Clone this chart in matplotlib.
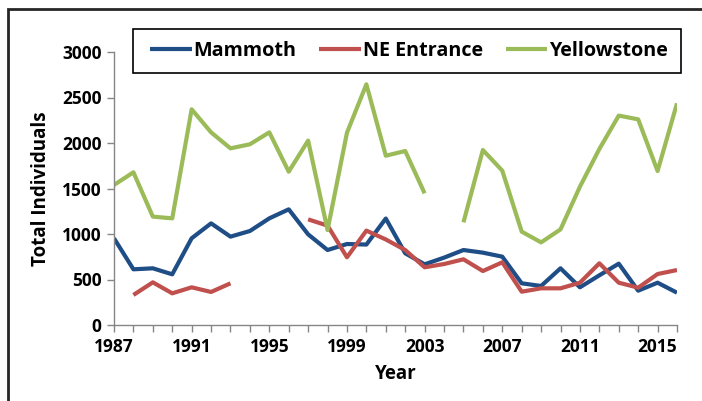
import numpy as np
import matplotlib
matplotlib.use("Agg")
import matplotlib.pyplot as plt
from matplotlib.patches import Rectangle

plt.rcParams["font.family"] = ["Open Sans", "DejaVu Sans"]

years = np.arange(1987, 2017)
nan = np.nan

mammoth = [953, 612, 623, 557, 953, 1117, 971, 1033, 1172, 1271,
           996, 824, 890, 884, 1170, 788, 667, 740, 824, 795,
           751, 458, 429, 623, 414, 546, 674, 377, 465, 355]
ne_entrance = [nan, 330, 469, 348, 414, 363, 458, nan, nan, nan,
               1161, 1092, 744, 1037, 940, 824, 634, 670, 722, 593,
               689, 366, 403, 403, 465, 678, 465, 410, 560, 604]
yellowstone = [1539, 1678, 1191, 1172, 2370, 2117, 1941, 1986, 2117, 1685,
               2026, 1044, 2113, 2645, 1860, 1912, 1447, nan, 1128, 1923,
               1696, 1026, 908, 1051, 1520, 1934, 2301, 2260, 1692, 2436]

series = [("Mammoth", mammoth, "#1F4E87"),
          ("NE Entrance", ne_entrance, "#C0504D"),
          ("Yellowstone", yellowstone, "#9BBB59")]

W, H = 702, 401
fig = plt.figure(figsize=(W / 100, H / 100), dpi=100)
ax = fig.add_axes([114 / W, 1 - 325 / H, (677 - 114) / W, (325 - 52) / H])

for name, vals, color in series:
    ax.plot(years, np.array(vals, dtype=float), color=color, lw=3.0,
            solid_capstyle="butt", label=name)

ax.set_xlim(1987, 2016)
ax.set_ylim(0, 3000)
ax.set_yticks(np.arange(0, 3001, 500))
ax.set_xticks(years)
ax.set_xticklabels([str(y) if (y - 1987) % 4 == 0 else "" for y in years])

axis_gray = "#868686"
for side in ["top", "right"]:
    ax.spines[side].set_visible(False)
for side in ["left", "bottom"]:
    ax.spines[side].set_color(axis_gray)
    ax.spines[side].set_linewidth(1.0)
ax.tick_params(axis="both", colors=axis_gray, length=5, width=1,
               labelcolor="black", labelsize=12.5, pad=4)
for lbl in ax.get_xticklabels() + ax.get_yticklabels():
    lbl.set_fontweight("bold")

ax.set_xlabel("Year", fontsize=13.5, fontweight="bold", labelpad=6)
ax.set_ylabel("Total Individuals", fontsize=13.5, fontweight="bold", labelpad=8)

# legend entries without frame, box drawn separately
leg = fig.legend(loc="center", ncol=3,
                 bbox_to_anchor=(409 / W, 1 - 51 / H),
                 frameon=False,
                 prop={"weight": "bold", "size": 14.2},
                 handlelength=2.1, handletextpad=0.1, columnspacing=1.15)
fig.patches.append(Rectangle((133 / W, 1 - 73 / H), (681 - 133) / W, 44 / H,
                             transform=fig.transFigure, fill=False,
                             edgecolor="black", lw=1.2))

# outer chart border (cropped on right and bottom)
fig.patches.append(Rectangle((8 / W, -0.1), 1.2, 1 - 9 / H + 0.1,
                             transform=fig.transFigure, fill=False,
                             edgecolor="#262626", lw=2))

fig.savefig("out.png", dpi=100)
